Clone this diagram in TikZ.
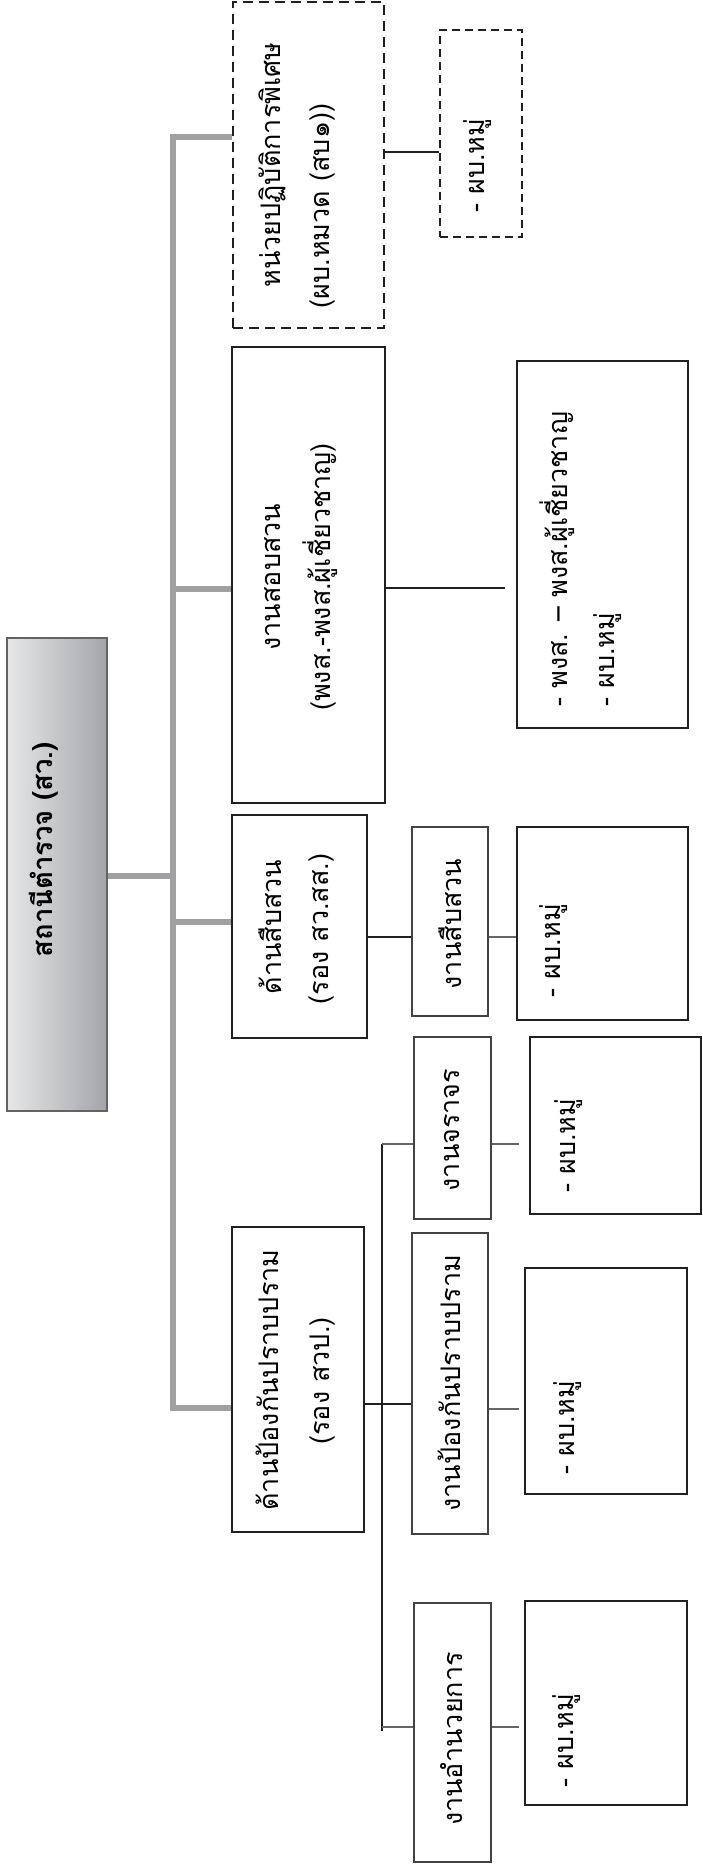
\documentclass[tikz,border=0pt]{standalone}
\usepackage{fontspec}
\newfontfamily\thai[Script=Thai]{Loma}
\definecolor{trunkgray}{HTML}{A0A0A3}
\definecolor{ink}{HTML}{231F20}
\definecolor{linegray}{HTML}{666666}
\definecolor{titlelight}{HTML}{E6E7E8}
\definecolor{titledark}{HTML}{A4A5A8}
\begin{document}
\begin{tikzpicture}[x=1pt,y=-1pt,
  box/.style={draw=ink, line width=2pt, fill=white, inner sep=0pt},
  dbox/.style={draw=ink, line width=2.3pt, dash pattern=on 10pt off 6pt, inner sep=0pt},
  sdbox/.style={draw=ink, line width=1.8pt, dash pattern=on 8pt off 5pt, inner sep=0pt},
  subbox/.style={draw=ink!85, line width=1.7pt, inner sep=0pt},
  txt/.style={rotate=90, font=\thai\fontsize{27}{40}\selectfont, inner sep=0pt},
  ttl/.style={rotate=90, font=\thai\bfseries\fontsize{27.5}{40}\selectfont, inner sep=0pt},
  trunk/.style={draw=trunkgray, line width=6pt, line join=miter},
  blk/.style={draw=ink, line width=2pt},
  gry/.style={draw=linegray, line width=2pt}
]
\useasboundingbox (0,0) rectangle (703,1871);

% boxes
\node[draw=ink!70, line width=2pt, inner sep=0pt, left color=titlelight, right color=titledark,
      minimum width=100pt, minimum height=473pt] (title) at (57,874) {};
\node[dbox, minimum width=151pt, minimum height=326pt] (spec) at (308.5,165) {};
\node[sdbox, minimum width=82pt, minimum height=207pt] (specS) at (481,133.5) {};
\node[box, minimum width=153pt, minimum height=456pt] (inv) at (308.5,575) {};
\node[box, minimum width=171pt, minimum height=367pt] (invS) at (602.5,544.5) {};
\node[box, minimum width=135pt, minimum height=223pt] (det) at (299.5,926.5) {};
\node[subbox, minimum width=76pt, minimum height=189pt] (detJ) at (450,921.5) {};
\node[box, minimum width=171pt, minimum height=193pt] (detS) at (602.5,923.5) {};
\node[box, minimum width=132pt, minimum height=305pt] (pre) at (298,1379.5) {};
\node[subbox, minimum width=77pt, minimum height=182pt] (traf) at (452.5,1128) {};
\node[box, minimum width=171pt, minimum height=177pt] (trafS) at (615.5,1125.5) {};
\node[subbox, minimum width=76pt, minimum height=301pt] (prev) at (450,1383.5) {};
\node[box, minimum width=162pt, minimum height=226pt] (prevS) at (606,1381) {};
\node[subbox, minimum width=77pt, minimum height=259pt] (adm) at (452.5,1732.5) {};
\node[box, minimum width=162pt, minimum height=204pt] (admS) at (606,1703) {};

% trunk coordinates
\coordinate (t1) at (173,137);
\coordinate (t2) at (173,589);
\coordinate (t3) at (173,922);
\coordinate (tt) at (173,876);
\coordinate (t4) at (173,1408);
\draw[trunk] (t1 -| spec.west) -- (t1) -- (t4) -- (t4 -| pre.west);
\draw[trunk] (t2) -- (t2 -| inv.west);
\draw[trunk] (t3) -- (t3 -| det.west);
\draw[trunk] (title.east |- tt) -- (tt);

% black connectors
\coordinate (c1) at (0,152);
\coordinate (c2) at (0,588);
\coordinate (c3) at (0,937);
\coordinate (c4) at (0,1404);
\draw[blk] (spec.east |- c1) -- (specS.west |- c1);
\draw[blk, shorten >=11pt] (inv.east |- c2) -- (invS.west |- c2);
\draw[blk] (det.east |- c3) -- (detJ.west |- c3);
\draw[blk] (pre.east |- c4) -- (prev.west |- c4);
\coordinate (v1) at (382,1144);
\coordinate (v2) at (382,1727);
\draw[blk] (v1) -- ([yshift=-4pt]v2);
\draw[gry] (v1) -- (traf.west |- v1);
\draw[gry] (v2) -- (adm.west |- v2);

% gray connectors
\coordinate (g2) at (0,1409);
\draw[gry] (detJ.east |- c3) -- (detS.west |- c3);
\draw[gry, shorten >=10pt] (traf.east |- v1) -- (trafS.west |- v1);
\draw[gry, shorten >=5pt] (prev.east |- g2) -- (prevS.west |- g2);
\draw[gry, shorten >=5pt] (adm.east |- v2) -- (admS.west |- v2);

% texts
\node[ttl] (ttitle) at (44,850) {สถานีตำรวจ (สว.)};
\node[txt] (tspec1) at (272,165) {หน่วยปฏิบัติการพิเศษ};
\node[txt] (tspec2) at (323,206) {(ผบ.หมวด (สบ๑))};
\node[txt, anchor=west] (tspecS) at (478,213) {- ผบ.หมู่};
\node[txt] (tinv1) at (273,577) {งานสอบสวน};
\node[txt] (tinv2) at (320,577) {(พงส.-พงส.ผู้เชี่ยวชาญ)};
\node[txt, anchor=west] (tinvS1) at (557,707) {- พงส. – พงส.ผู้เชี่ยวชาญ};
\node[txt, anchor=west] (tinvS2) at (608,707) {- ผบ.หมู่};
\node[txt] (tdet1) at (270,927) {ด้านสืบสวน};
\node[txt] (tdet2) at (322,929) {(รอง สว.สส.)};
\node[txt] (tdetJ) at (450,924) {งานสืบสวน};
\node[txt, anchor=west] (tdetS) at (554,998) {- ผบ.หมู่};
\node[txt] (tpre1) at (267,1380) {ด้านป้องกันปราบปราม};
\node[txt] (tpre2) at (323,1381) {(รอง สวป.)};
\node[txt] (ttraf) at (452,1130) {งานจราจร};
\node[txt, anchor=west] (ttrafS) at (569,1193) {- ผบ.หมู่};
\node[txt] (tprev) at (449,1383) {งานป้องกันปราบปราม};
\node[txt, anchor=west] (tprevS) at (568,1475) {- ผบ.หมู่};
\node[txt] (tadm) at (452,1739) {งานอำนวยการ};
\node[txt, anchor=west] (tadmS) at (567,1788) {- ผบ.หมู่};
\end{tikzpicture}
\end{document}
